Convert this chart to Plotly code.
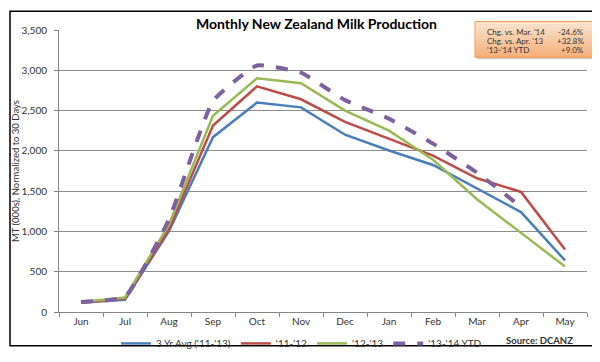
import plotly.graph_objects as go

months = ["Jun", "Jul", "Aug", "Sep", "Oct", "Nov", "Dec", "Jan", "Feb", "Mar", "Apr", "May"]
avg_3yr = [118, 150, 1005, 2170, 2600, 2540, 2200, 2005, 1825, 1530, 1240, 640]
y_11_12 = [115, 168, 1030, 2315, 2800, 2640, 2360, 2155, 1940, 1660, 1490, 775]
y_12_13 = [125, 180, 1085, 2435, 2900, 2840, 2500, 2250, 1890, 1400, 982, 565]
y_13_14 = [125, 188, 1150, 2620, 3060, 2970, 2630, 2400, 2090, 1730, 1305]
y_ticks = [0, 500, 1000, 1500, 2000, 2500, 3000, 3500]
box_labels = ["Chg. vs. Mar. '14", "Chg. vs. Apr. '13", "'13-'14 YTD"]
box_values = ["-24.6%", "+32.8%", "+9.0%"]

FONT = "Lato"
L, R, T, B = 51, 579, 22, 322
W, H = R - L, B - T


def px(x):
    return (x - L) / W


def py(y):
    return (B - y) / H


fig = go.Figure()
fig.add_trace(go.Scatter(x=months, y=avg_3yr, mode="lines", name="3 Yr Avg ('11-'13)",
                         line=dict(color="#4A7EBB", width=2.5)))
fig.add_trace(go.Scatter(x=months, y=y_11_12, mode="lines", name="'11-'12",
                         line=dict(color="#BE4B48", width=2.5)))
fig.add_trace(go.Scatter(x=months, y=y_12_13, mode="lines", name="'12-'13",
                         line=dict(color="#98B954", width=2.5)))
fig.add_trace(go.Scatter(x=months[:len(y_13_14)], y=y_13_14, mode="lines", name="'13-'14 YTD",
                         line=dict(color="#7D60A0", width=4, dash="dash", shape="spline", smoothing=0.4)))

shapes = []
# outer frame
shapes.append(dict(type="rect", xref="paper", yref="paper",
                   x0=px(2), x1=px(592), y0=py(358), y1=py(2),
                   line=dict(color="black", width=1.5), layer="below"))
# annotation box with vertical gradient
bx0, bx1, by0, by1 = 467, 587, 13, 51
shapes.append(dict(type="rect", xref="paper", yref="paper",
                   x0=px(bx0 + 2), x1=px(bx1 + 2), y0=py(by1 + 2), y1=py(by0 + 2),
                   line=dict(width=0), fillcolor="rgba(120,120,120,0.35)", layer="above"))
n = 12
c0 = (253, 228, 207)
c1 = (249, 176, 118)
for i in range(n):
    t = i / (n - 1)
    c = tuple(int(c0[k] + (c1[k] - c0[k]) * t) for k in range(3))
    ya = by0 + (by1 - by0) * i / n
    yb = by0 + (by1 - by0) * (i + 1) / n
    shapes.append(dict(type="rect", xref="paper", yref="paper",
                       x0=px(bx0), x1=px(bx1), y0=py(yb), y1=py(ya),
                       line=dict(width=0), fillcolor="rgb(%d,%d,%d)" % c, layer="above"))
shapes.append(dict(type="rect", xref="paper", yref="paper",
                   x0=px(bx0), x1=px(bx1), y0=py(by1), y1=py(by0),
                   line=dict(color="#F79646", width=1), layer="above"))

annotations = []
rows_y = [24, 33.5, 43.5]
for lab, val, ry in zip(box_labels, box_values, rows_y):
    annotations.append(dict(xref="paper", yref="paper", x=px(477), y=py(ry), text=lab,
                            showarrow=False, xanchor="left", yanchor="middle",
                            font=dict(family=FONT, size=8, color="#333333")))
    annotations.append(dict(xref="paper", yref="paper", x=px(578), y=py(ry), text=val,
                            showarrow=False, xanchor="right", yanchor="middle",
                            font=dict(family=FONT, size=8, color="#333333")))
annotations.append(dict(xref="paper", yref="paper", x=px(308), y=py(15),
                        text="<b>Monthly New Zealand Milk Production</b>", showarrow=False,
                        xanchor="center", yanchor="middle",
                        font=dict(family=FONT, size=14, color="black")))
annotations.append(dict(xref="paper", yref="paper", x=px(7), y=py(172),
                        text="MT (000s), Normalized to 30 Days", showarrow=False, textangle=-90,
                        xanchor="center", yanchor="middle",
                        font=dict(family=FONT, size=9.5, color="#333333")))
annotations.append(dict(xref="paper", yref="paper", x=px(567), y=py(352),
                        text="<b>Source: DCANZ</b>", showarrow=False,
                        xanchor="right", yanchor="middle",
                        font=dict(family=FONT, size=9.5, color="#333333")))

fig.update_layout(
    width=600, height=362,
    margin=dict(l=L, r=600 - R, t=T, b=362 - B),
    paper_bgcolor="white", plot_bgcolor="white",
    font=dict(family=FONT, size=10, color="#333333"),
    showlegend=True,
    legend=dict(orientation="h", x=px(108), y=py(340), xanchor="left", yanchor="top",
                font=dict(family=FONT, size=10, color="#333333"),
                bgcolor="rgba(0,0,0,0)"),
    shapes=shapes,
    annotations=annotations,
)
fig.update_xaxes(type="category", range=[-0.5, 11.5], showgrid=False,
                 showline=True, linecolor="#868686", linewidth=1,
                 ticks="outside", tickson="boundaries", ticklen=4, tickcolor="#868686",
                 tickfont=dict(family=FONT, size=10, color="#333333"), fixedrange=True)
fig.update_yaxes(range=[0, 3500], tickvals=y_ticks, tickformat=",",
                 showgrid=True, gridcolor="#8C8C8C", gridwidth=1,
                 showline=True, linecolor="#868686", linewidth=1,
                 ticks="outside", ticklen=4, tickcolor="#868686", ticklabelstandoff=5,
                 tickfont=dict(family=FONT, size=10, color="#333333"), zeroline=False)

fig.write_html("out.html")
